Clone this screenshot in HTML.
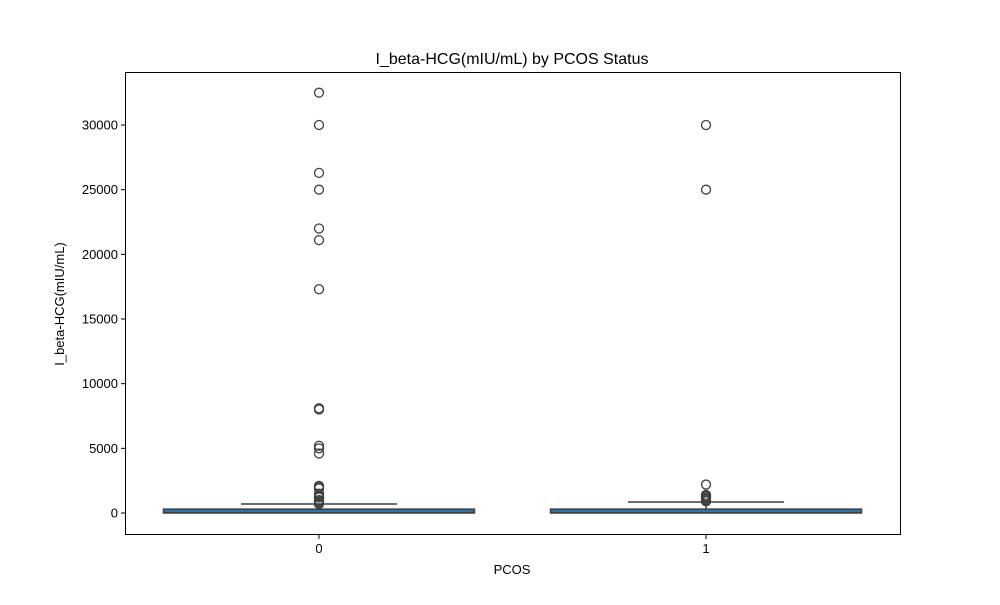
<!DOCTYPE html>
<html><head><meta charset="utf-8"><style>
body{margin:0;background:#fff}
svg text{font-family:"Liberation Sans",sans-serif;fill:#000}
</style></head><body>
<svg id="chart" width="1000" height="600">
<text x="512" y="64" font-size="16" text-anchor="middle">I_beta-HCG(mIU/mL) by PCOS Status</text>
<text x="512" y="574" font-size="13" text-anchor="middle">PCOS</text>
<text transform="translate(64,304) rotate(-90)" font-size="13" text-anchor="middle">I_beta-HCG(mIU/mL)</text>
<g id="plot"></g>
<rect x="125.5" y="72.5" width="775" height="462" fill="none" stroke="#000" stroke-width="1"/>
</svg>
<script>
const categories=["0","1"];
const q1=[0,0];
const medians=[20,20];
const q3=[300,300];
const whiskLo=[0,0];
const whiskHi=[700,850];
const outliers0=[32500,30000,26300,25000,22000,21100,17300,8100,8000,5200,5000,4600,2100,2000,1900,1500,1300,1200,1000,900,800,700];
const outliers1=[30000,25000,2200,1400,1300,1200,1100,1000,900];
const outliers=[outliers0,outliers1];
const yTicks=[0,5000,10000,15000,20000,25000,30000];

const NS="http://www.w3.org/2000/svg";
const g=document.getElementById('plot');
const y=v=>513-(v/30000)*388;
const xc=i=>319+i*387;
function mk(t,a){const e=document.createElementNS(NS,t);for(const k in a)e.setAttribute(k,a[k]);g.appendChild(e);return e;}
yTicks.forEach(v=>{
 const l=mk('line',{x1:121,x2:125,y1:y(v),y2:y(v),stroke:'#000'});
 
 
 const t=mk('text',{x:118,y:y(v)+4.5,'font-size':13,'text-anchor':'end'});t.textContent=v;
 
 
});
categories.forEach((c,i)=>{
 const cx=xc(i),hw=155.5;
 const tk=mk('line',{x1:cx,x2:cx,y1:535,y2:539,stroke:'#000'});
 
 
 const t=mk('text',{x:cx,y:553,'font-size':13,'text-anchor':'middle'});t.textContent=c;
 
 
 const w1=mk('line',{x1:cx,x2:cx,y1:y(q3[i]),y2:y(whiskHi[i]),stroke:'#3f3f3f','stroke-width':1.5});
 
 
 const cap=mk('line',{x1:cx-78,x2:cx+78,y1:y(whiskHi[i]),y2:y(whiskHi[i]),stroke:'#3f3f3f','stroke-width':1.5});
 
 
 const top=y(q3[i]),bot=y(q1[i]);
 const b=mk('rect',{x:cx-hw,y:top,width:2*hw,height:Math.max(bot-top,1),fill:'#3274a1',stroke:'#3f3f3f','stroke-width':1.5});
 
 
 const m=mk('line',{x1:cx-hw,x2:cx+hw,y1:y(medians[i]),y2:y(medians[i]),stroke:'#3f3f3f','stroke-width':1.5});
 
 
 outliers[i].forEach(v=>{
  const o=mk('circle',{cx:cx,cy:y(v),r:4.5,fill:'none',stroke:'#3f3f3f','stroke-width':1.3});
  
  
 });
});
</script>
</body></html>
